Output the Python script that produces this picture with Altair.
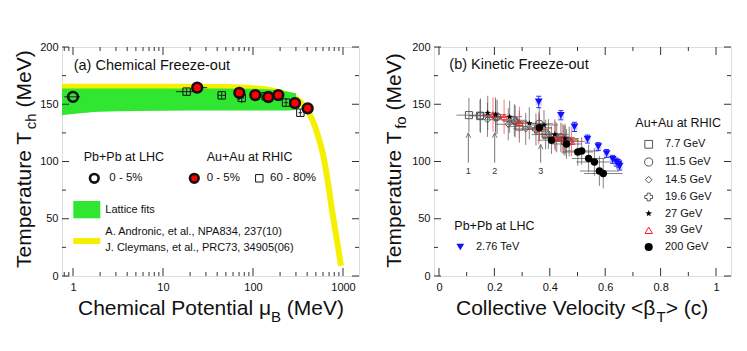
import altair as alt
import pandas as pd

FONT = "Liberation Sans"
W, H = 297, 229
TC = "#333333"
INK = "#111111"
YEL = "#f4f000"
GRN = "#30e630"

# ================= (a) Chemical freeze-out data =================
lhc_mu = [1.0]
lhc_T = [156.5]
lhc_mu_lo = [0.80]
lhc_mu_hi = [1.20]

rhic_mu = [24.0, 70.5, 106.0, 148.0, 191.0, 293.0, 405.0]
rhic_T = [164.5, 160.0, 158.0, 156.3, 158.0, 151.0, 146.4]
rhic_T_lo = [162.0, 153.5, 153.0, 154.0, 155.5, 148.5, 144.0]
rhic_T_hi = [167.0, 164.0, 163.0, 159.0, 160.5, 153.5, 149.0]
rhic_mu_lo = [21.5, 66.0, 100.0, 140.0, 182.0, 280.0, 390.0]
rhic_mu_hi = [31.0, 75.0, 112.0, 156.0, 200.0, 306.0, 420.0]

per_mu = [18.3, 44.9, 75.0, 138.0, 233.0, 336.0]
per_T = [161.0, 157.8, 155.5, 157.0, 151.4, 142.6]
per_T_lo = [158.0, 154.3, 151.0, 154.0, 147.5, 139.7]
per_T_hi = [164.0, 160.7, 160.0, 160.0, 155.5, 145.6]
per_mu_lo = [13.9, 40.6, 70.0, 130.0, 220.0, 320.0]
per_mu_hi = [24.0, 50.0, 80.0, 146.0, 246.0, 352.0]

lat_mu = [0.755, 1.0, 2.0, 5.0, 20.0, 100.0, 200.0, 300.0]
lat_lo = [140.5, 141.5, 143.5, 144.0, 144.5, 144.5, 144.5, 145.0]
lat_hi = [163.8, 163.8, 163.8, 163.8, 163.8, 163.5, 162.0, 159.5]

cur_mu = [0.755, 10.0, 50.0, 100.0, 150.0, 200.0, 250.0, 300.0, 370.0, 460.0,
          530.0, 600.0, 680.0, 760.0, 840.0, 900.0, 950.0]
cur_T = [165.3, 165.3, 165.0, 164.0, 162.5, 160.5, 158.0, 155.0, 148.5, 136.0,
         122.0, 106.0, 82.0, 56.0, 35.0, 21.0, 9.0]

# ================= (b) Kinetic freeze-out data =================
b77 = [0.108, 0.148, 0.290, 0.385, 0.455]
t77 = [140.5, 140.0, 130.5, 123.5, 118.0]
b77e = [0.045, 0.040, 0.045, 0.050, 0.050]
t77e = [15.0, 14.0, 14.0, 13.0, 13.0]

b115 = [0.150, 0.210, 0.272, 0.362, 0.440]
t115 = [140.0, 139.0, 136.0, 133.0, 121.0]
b115e = [0.040, 0.045, 0.045, 0.050, 0.050]
t115e = [15.0, 15.0, 14.0, 14.0, 13.0]

b145 = [0.175, 0.250, 0.313, 0.395, 0.450]
t145 = [136.5, 132.5, 128.5, 124.0, 119.0]
b145e = [0.040, 0.045, 0.045, 0.050, 0.050]
t145e = [15.0, 14.0, 14.0, 13.0, 13.0]

b196 = [0.205, 0.275, 0.350, 0.425, 0.470]
t196 = [138.5, 135.0, 128.0, 121.0, 117.5]
b196e = [0.040, 0.045, 0.045, 0.050, 0.050]
t196e = [15.0, 14.0, 14.0, 13.0, 13.0]

b27 = [0.176, 0.204, 0.255, 0.326, 0.379, 0.418, 0.455]
t27 = [142.4, 140.9, 139.1, 133.4, 131.9, 123.7, 120.0]
b27e = [0.040, 0.040, 0.045, 0.045, 0.050, 0.050, 0.050]
t27e = [15.0, 15.0, 14.0, 14.0, 13.0, 13.0, 13.0]

b39 = [0.195, 0.235, 0.290, 0.360, 0.420, 0.445, 0.478]
t39 = [141.0, 139.0, 134.0, 129.0, 122.0, 120.0, 117.5]
b39e = [0.040, 0.040, 0.045, 0.045, 0.050, 0.050, 0.050]
t39e = [15.0, 15.0, 14.0, 14.0, 13.0, 13.0, 13.0]

b200 = [0.362, 0.406, 0.460, 0.501, 0.515, 0.540, 0.561, 0.579, 0.593]
t200 = [129.5, 118.6, 115.3, 108.3, 109.2, 102.6, 99.6, 91.7, 89.5]
b200e = [0.045, 0.050, 0.055, 0.055, 0.060, 0.060, 0.065, 0.070, 0.070]
t200e = [12.0, 12.0, 13.0, 12.0, 12.0, 12.0, 12.0, 13.0, 13.0]

blhc = [0.360, 0.440, 0.489, 0.536, 0.575, 0.605, 0.627, 0.640, 0.648, 0.652]
tlhc = [152.0, 140.4, 130.2, 119.6, 113.0, 107.0, 101.9, 99.5, 98.0, 96.0]
tlhce = [5.0, 4.0, 4.0, 3.5, 3.5, 3.5, 3.5, 3.5, 3.5, 3.5]

arrow_b = [0.106, 0.201, 0.367]
arrow_lo = [99.0, 99.0, 99.0]
arrow_hi = [125.0, 125.0, 115.0]
arrow_lab = ["1", "2", "3"]

ONE = pd.DataFrame({"k": [0]})

# Arial / Liberation Sans advance widths (per 1000 em)
AW = {" ": 278, "(": 333, ")": 333, "<": 584, ">": 584, ".": 278, ",": 278,
      "A": 667, "B": 667, "C": 722, "M": 833, "P": 667, "T": 611, "V": 667,
      "a": 556, "c": 500, "e": 556, "f": 278, "h": 556, "i": 222, "l": 222,
      "m": 833, "n": 556, "o": 556, "p": 556, "r": 333, "t": 278, "u": 556,
      "v": 500, "y": 500, "μ": 576, "β": 575}


def tw(s, size):
    return sum(AW.get(c, 556) for c in s) * size / 1000.0


def txt(s, x, y, size=11, align="left", baseline="middle", angle=0, color=INK):
    return alt.Chart(ONE).mark_text(
        text=s, font=FONT, fontSize=size, align=align, baseline=baseline,
        angle=angle, color=color).encode(x=alt.value(x), y=alt.value(y))


def htitle(pieces, x0, y0):
    out = []
    x = x0
    for s, size, dy in pieces:
        lead = len(s) - len(s.lstrip(" "))
        x += tw(" " * lead, size)
        s2 = s.lstrip(" ")
        out.append(txt(s2, x, y0 + dy, size=size, baseline="alphabetic"))
        x += tw(s2, size)
    return out


def vtitle(pieces, x0, y0):
    out = []
    y = y0
    for s, size, dx in pieces:
        lead = len(s) - len(s.lstrip(" "))
        y -= tw(" " * lead, size)
        s2 = s.lstrip(" ")
        out.append(txt(s2, x0 + dx, y, size=size, baseline="alphabetic", angle=270))
        y -= tw(s2, size)
    return out


def sym(x, y, shape, size, filled, fill=None, stroke=INK, sw=1.0):
    kw = dict(shape=shape, size=size, filled=filled, opacity=1, strokeWidth=sw, stroke=stroke)
    if fill is not None:
        kw["fill"] = fill
    return alt.Chart(ONE).mark_point(**kw).encode(x=alt.value(x), y=alt.value(y))


YS = alt.Scale(domain=[0, 200], nice=False, zero=False)
AY = alt.Axis(values=[0, 50, 100, 150, 200], format="d", ticks=False, domain=False,
              grid=False, labelFont=FONT, labelFontSize=11, labelColor=INK,
              labelPadding=4, title=None)

XSa = alt.Scale(type="log", domain=[0.755, 1506], nice=False)
AXa = alt.Axis(values=[1, 10, 100, 1000], format="d", ticks=False, domain=False,
               grid=False, labelFont=FONT, labelFontSize=11, labelColor=INK,
               labelPadding=5, title=None, labelFlush=False)
XSb = alt.Scale(domain=[-0.018, 1.054], nice=False, zero=False)
AXb = alt.Axis(values=[0, 0.2, 0.4, 0.6, 0.8, 1.0], format="~g", ticks=False,
               domain=False, grid=False, labelFont=FONT, labelFontSize=11,
               labelColor=INK, labelPadding=5, title=None, labelFlush=False)


def Yf(f):
    return alt.Y(f, type="quantitative", scale=YS, axis=AY)


def tick_layers(Xf, xmaj, xmin, ymaj, ymin):
    out = []
    for vals, ln in ((xmaj, 8), (xmin, 4)):
        d = pd.DataFrame({"v": vals})
        out.append(alt.Chart(d).mark_rule(color=TC, strokeWidth=1).encode(
            x=Xf("v"), y=alt.value(H), y2=alt.value(H - ln)))
        out.append(alt.Chart(d).mark_rule(color=TC, strokeWidth=1).encode(
            x=Xf("v"), y=alt.value(0), y2=alt.value(ln)))
    for vals, ln in ((ymaj, 7), (ymin, 4)):
        d = pd.DataFrame({"v": vals})
        out.append(alt.Chart(d).mark_rule(color=TC, strokeWidth=1).encode(
            y=Yf("v"), x=alt.value(0), x2=alt.value(ln)))
        out.append(alt.Chart(d).mark_rule(color=TC, strokeWidth=1).encode(
            y=Yf("v"), x=alt.value(W), x2=alt.value(W - ln)))
    return out


def seg_df(xs, ys, xlo, xhi, ylo, yhi):
    rows = []
    for i in range(len(xs)):
        rows.append({"x1": xlo[i], "x2": xhi[i], "y1": ys[i], "y2": ys[i]})
        rows.append({"x1": xs[i], "x2": xs[i], "y1": ylo[i], "y2": yhi[i]})
    return pd.DataFrame(rows)


# ================= panel (a) =================
def Xa(f):
    return alt.X(f, type="quantitative", scale=XSa, axis=AXa)


cur_df = pd.DataFrame({"mu": cur_mu, "T": cur_T})
lat_df = pd.DataFrame({"mu": lat_mu, "lo": lat_lo, "hi": lat_hi})

a_layers = []
a_layers.append(alt.Chart(cur_df).mark_line(color=YEL, strokeWidth=6, strokeCap="butt",
                                            interpolate="monotone", clip=True).encode(
    x=Xa("mu"), y=Yf("T")))
a_layers.append(alt.Chart(lat_df).mark_area(color=GRN, clip=True, interpolate="monotone").encode(
    x=Xa("mu"), y=Yf("lo"), y2="hi"))

err_a = pd.concat([
    seg_df(lhc_mu, lhc_T, lhc_mu_lo, lhc_mu_hi, lhc_T, lhc_T),
    seg_df(rhic_mu, rhic_T, rhic_mu_lo, rhic_mu_hi, rhic_T_lo, rhic_T_hi),
    seg_df(per_mu, per_T, per_mu_lo, per_mu_hi, per_T_lo, per_T_hi),
])
a_layers.append(alt.Chart(err_a).mark_rule(color="#222", strokeWidth=1).encode(
    x=Xa("x1"), x2="x2", y=Yf("y1"), y2="y2"))

a_layers.append(alt.Chart(pd.DataFrame({"mu": per_mu, "T": per_T})).mark_point(
    shape="square", size=55, filled=False, opacity=1, stroke=INK, strokeWidth=1).encode(
    x=Xa("mu"), y=Yf("T")))
a_layers.append(alt.Chart(pd.DataFrame({"mu": rhic_mu, "T": rhic_T})).mark_point(
    shape="circle", size=95, filled=True, fill="#ff0000", stroke=INK, strokeWidth=2.6,
    opacity=1).encode(x=Xa("mu"), y=Yf("T")))
a_layers.append(alt.Chart(pd.DataFrame({"mu": lhc_mu, "T": lhc_T})).mark_point(
    shape="circle", size=95, filled=False, stroke=INK, strokeWidth=2.6, opacity=1).encode(
    x=Xa("mu"), y=Yf("T")))

a_xmaj = [1, 10, 100, 1000]
a_xmin = [0.8, 0.9] + [m * 10 ** k for k in range(0, 3) for m in range(2, 10)]
a_layers += tick_layers(Xa, a_xmaj, a_xmin, [0, 50, 100, 150, 200], [25, 75, 125, 175])

# texts / legend (a)
a_layers.append(txt("(a) Chemical Freeze-out", 11.7, 19, size=14.5))
a_layers.append(txt("Pb+Pb at LHC", 21.7, 110, size=12.5))
a_layers.append(txt("Au+Au at RHIC", 144.7, 110, size=12.5))
a_layers.append(sym(32.3, 131.3, "circle", 75, False, stroke=INK, sw=2.6))
a_layers.append(txt("0 - 5%", 47.3, 131.3, size=11.5))
a_layers.append(sym(132.3, 131.3, "circle", 75, True, fill="#ff0000", stroke=INK, sw=2.6))
a_layers.append(txt("0 - 5%", 144.7, 131.3, size=11.5))
a_layers.append(sym(197.3, 131.3, "square", 55, False, stroke=INK, sw=1))
a_layers.append(txt("60 - 80%", 208, 131.3, size=11.5))
a_layers.append(alt.Chart(ONE).mark_rect(color=GRN).encode(
    x=alt.value(11.3), x2=alt.value(38.3), y=alt.value(154), y2=alt.value(171.3)))
a_layers.append(txt("Lattice fits", 43.3, 163, size=11))
a_layers.append(alt.Chart(ONE).mark_rule(color=YEL, strokeWidth=6).encode(
    x=alt.value(11.3), x2=alt.value(38.3), y=alt.value(194)))
a_layers.append(txt("A. Andronic, et al., NPA834, 237(10)", 43.3, 184.7, size=11))
a_layers.append(txt("J. Cleymans, et al., PRC73, 34905(06)", 43.3, 200.7, size=11))

a_layers += htitle([("Chemical Potential μ", 21, 0), ("B", 15, 7), (" (MeV)", 21, 0)], 16, 268)
a_layers += vtitle([("Temperature T", 21, 0), ("ch", 15, 5), (" (MeV)", 21, 0)], -31.5, 221)

panel_a = alt.layer(*a_layers).properties(width=W, height=H)


# ================= panel (b) =================
def Xb(f):
    return alt.X(f, type="quantitative", scale=XSb, axis=AXb)


def cross_df(bs, ts, be, te):
    return seg_df(bs, ts, [b - e for b, e in zip(bs, be)], [b + e for b, e in zip(bs, be)],
                  [t - e for t, e in zip(ts, te)], [t + e for t, e in zip(ts, te)])


b_layers = []
gray_err = pd.concat([
    cross_df(b77, t77, b77e, t77e), cross_df(b115, t115, b115e, t115e),
    cross_df(b145, t145, b145e, t145e), cross_df(b196, t196, b196e, t196e),
    cross_df(b27, t27, b27e, t27e), cross_df(b200, t200, b200e, t200e),
])
b_layers.append(alt.Chart(gray_err).mark_rule(color="#5a5a5a", strokeWidth=1, opacity=0.75).encode(
    x=Xb("x1"), x2="x2", y=Yf("y1"), y2="y2"))
b_layers.append(alt.Chart(cross_df(b39, t39, b39e, t39e)).mark_rule(
    color="#ff5050", strokeWidth=1, opacity=0.8).encode(x=Xb("x1"), x2="x2", y=Yf("y1"), y2="y2"))

# arrows
arr_df = pd.DataFrame({"b": arrow_b, "lo": arrow_lo, "hi": arrow_hi, "lab": arrow_lab,
                       "ly": [l - 7 for l in arrow_lo]})
b_layers.append(alt.Chart(arr_df).mark_rule(color="#777777", strokeWidth=1).encode(
    x=Xb("b"), y=Yf("lo"), y2="hi"))
b_layers.append(alt.Chart(arr_df).mark_point(shape="M-1,2.2L0,0L1,2.2", size=20, filled=False,
                                             stroke="#777777", strokeWidth=1, opacity=1).encode(
    x=Xb("b"), y=Yf("hi")))
b_layers.append(alt.Chart(arr_df).mark_text(font=FONT, fontSize=9, color="#333").encode(
    x=Xb("b"), y=Yf("ly"), text="lab:N"))


def pts(bs, ts, **kw):
    base = dict(opacity=1)
    base.update(kw)
    return alt.Chart(pd.DataFrame({"b": bs, "T": ts})).mark_point(**base).encode(
        x=Xb("b"), y=Yf("T"))


G = "#555555"
STAR = ("M0,-1L0.235,-0.324L0.951,-0.309L0.38,0.124L0.588,0.809L0,0.4L-0.588,0.809"
        "L-0.38,0.124L-0.951,-0.309L-0.235,-0.324Z")
b_layers.append(pts(b77, t77, shape="square", size=50, filled=False, stroke=G, strokeWidth=1))
b_layers.append(pts(b115, t115, shape="circle", size=55, filled=False, stroke=G, strokeWidth=1))
b_layers.append(pts(b145, t145, shape="diamond", size=40, filled=False, stroke=G, strokeWidth=1))
b_layers.append(pts(b196, t196, shape="cross", size=50, filled=False, stroke=G, strokeWidth=1))
b_layers.append(pts(b39, t39, shape="triangle-up", size=45, filled=False, stroke="#ff2020", strokeWidth=1))
b_layers.append(pts(b27, t27, shape=STAR, size=45, filled=True, fill="#000000", strokeWidth=0))
b_layers.append(pts(b200, t200, shape="circle", size=55, filled=True, fill="#000000", strokeWidth=0))

# LHC: sys boxes + stat bars with caps + triangles
lhc_df = pd.DataFrame({"b": blhc, "T": tlhc,
                       "bl": [b - 0.011 for b in blhc], "bh": [b + 0.011 for b in blhc],
                       "sl": [t - 3 for t in tlhc], "sh": [t + 3 for t in tlhc],
                       "el": [t - e for t, e in zip(tlhc, tlhce)],
                       "eh": [t + e for t, e in zip(tlhc, tlhce)],
                       "cl": [b - 0.009 for b in blhc], "ch": [b + 0.009 for b in blhc]})
b_layers.append(alt.Chart(lhc_df).mark_rect(color="#b8c4ff", opacity=0.7).encode(
    x=Xb("bl"), x2="bh", y=Yf("sl"), y2="sh"))
b_layers.append(alt.Chart(lhc_df).mark_rule(color="#2a2aff", strokeWidth=1).encode(
    x=Xb("b"), y=Yf("el"), y2="eh"))
b_layers.append(alt.Chart(lhc_df).mark_rule(color="#2a2aff", strokeWidth=1).encode(
    x=Xb("cl"), x2="ch", y=Yf("el")))
b_layers.append(alt.Chart(lhc_df).mark_rule(color="#2a2aff", strokeWidth=1).encode(
    x=Xb("cl"), x2="ch", y=Yf("eh")))
b_layers.append(pts(blhc, tlhc, shape="triangle-down", size=60, filled=True, fill="#1010ff",
                    strokeWidth=0))

b_layers += tick_layers(Xb, [0, 0.2, 0.4, 0.6, 0.8, 1.0], [0.1, 0.3, 0.5, 0.7, 0.9],
                        [0, 50, 100, 150, 200], [25, 75, 125, 175])

# texts / legend (b)
b_layers.append(txt("(b) Kinetic Freeze-out", 15.3, 18, size=14.5))
b_layers.append(txt("Au+Au at RHIC", 201.3, 76.3, size=12.5))
leg_rows = [97.3, 115.0, 132.7, 150.0, 166.5, 183.3, 200.0]
leg_lab = ["7.7 GeV", "11.5 GeV", "14.5 GeV", "19.6 GeV", "27 GeV", "39 GeV", "200 GeV"]
SX = 214.7
b_layers.append(sym(SX, leg_rows[0], "square", 60, False, stroke=G))
b_layers.append(sym(SX, leg_rows[1], "circle", 65, False, stroke=G))
b_layers.append(sym(SX, leg_rows[2], "diamond", 45, False, stroke=G))
b_layers.append(sym(SX, leg_rows[3], "cross", 60, False, stroke=G))
b_layers.append(sym(SX, leg_rows[4], STAR, 50, True, fill="#000000", stroke="#000000", sw=0))
b_layers.append(sym(SX, leg_rows[5], "triangle-up", 55, False, stroke="#ff2020"))
b_layers.append(sym(SX, leg_rows[6], "circle", 65, True, fill="#000000", stroke="#000000", sw=0))
for yv, lab in zip(leg_rows, leg_lab):
    b_layers.append(txt(lab, 231, yv, size=11))
b_layers.append(txt("Pb+Pb at LHC", 20.3, 179, size=12.5))
b_layers.append(sym(26.3, 200, "triangle-down", 60, True, fill="#1010ff", stroke="#1010ff", sw=0))
b_layers.append(txt("2.76 TeV", 42, 200, size=11))

b_layers += htitle([("Collective Velocity <β", 21, 0), ("T", 15, 7), ("> (c)", 21, 0)], 22, 268)
b_layers += vtitle([("Temperature T", 21, 0), ("fo", 15, 5), (" (MeV)", 21, 0)], -33, 220.7)

panel_b = alt.layer(*b_layers).properties(width=W, height=H)

chart = alt.hconcat(panel_a, panel_b, spacing=23).properties(
    padding={"left": 4, "top": 32, "right": 5, "bottom": 5}
).configure_view(stroke="#222222", strokeWidth=2).configure(background="white")

chart.save("out.html", embed_options={"renderer": "svg", "actions": False})
